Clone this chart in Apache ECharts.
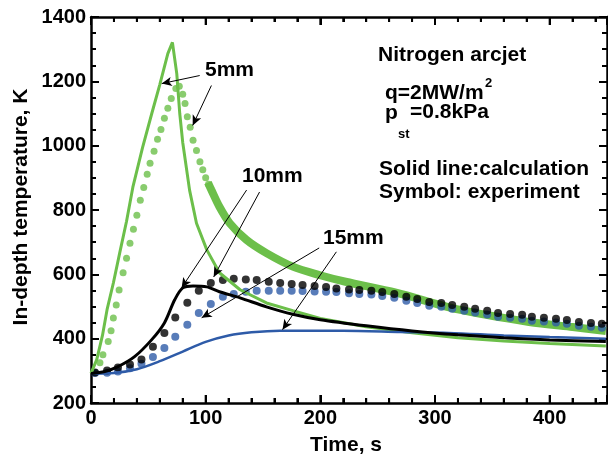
<!DOCTYPE html>
<html>
<head>
<meta charset="utf-8">
<script src="https://cdn.jsdelivr.net/npm/echarts@6/dist/echarts.min.js"></script>
<style>
  html, body { margin: 0; padding: 0; background: #fff; }
  #chart { width: 608px; height: 457px; }
</style>
</head>
<body>
<div id="chart"></div>
<script>
// time (s), temperature (K)
const calc5mm = [[0,292],[5,335],[10,410],[14,490],[19.5,573],[25,666],[31,765],[36.5,871],[45,995],[53,1100],[60,1190],[67,1286],[71,1321],[74.8,1224],[77.4,1100],[80,1010],[86,861],[92,759],[101,676],[112,605],[130,552],[153,511],[176,487],[200,463],[240,437],[280,418],[320,403],[360,393],[400,385],[449,377]]
const calc10mm = [[0,292],[12,298],[23.5,313],[38,344],[53,397],[64,449],[73,521],[80,558],[89,564],[101,561],[112,546],[130,527],[153,499],[176,476],[200,459],[240,440],[280,424],[320,412],[360,403],[400,396],[449,391]]
const calc15mm = [[0,291],[20,293],[40,305],[60,330],[80,360],[100,390],[120,410],[140,420],[165,425],[220,425],[270,421],[312,418],[360,410],[400,405],[449,400]]

// 5mm experiment: separate dots up to ~100 s, then the points merge into a dense band
const exp5mmDots = [[3.5,295],[7.8,325],[10.4,350],[15,391],[17.5,425],[19.5,464],[22,505],[24.5,551],[28,605],[31,650],[34,697],[37,740],[40,784],[43,830],[46,870],[49,911],[51.5,945],[55,983],[58,1020],[61,1050],[64,1085],[67,1116],[70,1147],[74,1178],[77,1185],[80,1160],[82,1131],[84,1090],[86.5,1057],[89,1017],[92,985],[95,950],[97.5,925],[100,900],[102.5,880]]
const exp5mmBand = [[102,885],[105,862],[112,810],[121,759],[135.6,707],[153,666],[176,624],[199,598],[222,577],[266,543],[320,491],[382,452],[420,436],[449,424]]
const exp10mm = [[3.5,295],[14,301],[23.5,310],[34,320],[44,335],[54,375],[64,418],[73.5,466],[84,512],[94,549],[104.5,573],[115,582],[124.5,586],[135,584],[144.5,582],[155,577],[165,573],[175,570],[184.5,567],[195,564],[205,561],[214,556],[225,553],[234,551],[244.5,549],[254,545],[264.5,539],[275,530],[284.5,523],[295,514],[305.5,511],[315,505],[325.5,499],[335,493],[345.5,487],[355,480],[365.5,477],[376,474],[384.5,468],[395,465],[405.5,462],[415,458],[425.5,452],[436,449],[445.5,446]]
const exp15mm = [[3.5,293],[14,294],[23.5,298],[34,308],[44,322],[54,343],[64,371],[73.5,406],[84,443],[94,480],[104.5,508],[115,530],[124.5,539],[135,546],[144.5,549],[155,549],[165,549],[175,549],[184.5,548],[195,547],[205,546],[214,545],[225,541],[234,539],[244.5,537],[254,533],[264.5,527],[275,518],[284.5,511],[295,502],[305.5,499],[315,493],[325.5,487],[335,481],[345.5,475],[355,468],[365.5,465],[376,462],[384.5,456],[395,453],[405.5,450],[415,446],[425.5,440],[436,437],[445.5,434]]

// annotation arrows: [from, to] in data units
const arrows = [
  [[94.8,1218],[61.7,1193]],
  [[105,1187],[88.7,1063]],
  [[135.7,862],[79,558]],
  [[147,856],[107,592]],
  [[199,682],[96.5,465]],
  [[214,670],[167,428]]
]

const X_MIN = 0, X_MAX = 450, X_STEP = 100, X_MINOR = 5
const Y_MIN = 200, Y_MAX = 1400, Y_STEP = 200, Y_MINOR = 4

const GREEN = '#6cbf4a'
const BLUE = '#2e5ba8'
const BLACK = '#000'
const FONT = 'Liberation Sans'

const chart = echarts.init(document.getElementById('chart'))

const plotRect = { left: 91, right: 1, top: 17, bottom: 54 }

// one x and one y axis per grid; the second grid sits on top of the first to give the mirrored ticks
function makeAxis(gridIndex, position, min, max, interval, minorSplit, withLabels) {
  const ax = {
    type: 'value', gridIndex: gridIndex, position: position, min: min, max: max, interval: interval,
    axisLine: { show: true, lineStyle: { color: '#000', width: 2.5 } },
    axisTick: { show: true, inside: true, length: 8, lineStyle: { color: '#000', width: 2 } },
    minorTick: { show: true, splitNumber: minorSplit, length: 5, lineStyle: { color: '#000', width: 2 } },
    splitLine: { show: false },
    axisLabel: withLabels
      ? { show: true, color: '#000', fontFamily: FONT, fontWeight: 'bold', fontSize: 20,
          margin: 5, formatter: v => String(v) }
      : { show: false }
  }
  if (position === 'right') ax.axisLine.onZero = false
  if (position === 'bottom') ax.axisLabel.showMaxLabel = false
  return ax
}

function txt(text, x, y, size, extra) {
  return { type: 'text', x: x, y: y, silent: true,
    style: { text: text, fill: '#000', font: 'bold ' + size + 'px "' + FONT + '"',
      textAlign: 'left', textVerticalAlign: 'middle', ...extra } }
}

const texts = [
  txt('5mm', 205, 70, 21),
  txt('10mm', 242, 176, 21),
  txt('15mm', 323, 238, 21),
  txt('Nitrogen arcjet', 378, 55, 21),
  txt('q=2MW/m', 385, 93, 21),
  txt('2', 485, 83, 13),
  txt('p', 385, 113, 21),
  txt('st', 398, 134, 13),
  txt('=0.8kPa', 410, 112, 21),
  txt('Solid line:calculation', 379, 169, 21),
  txt('Symbol: experiment', 379, 192, 21),
  txt('Time, s', 346, 445, 21, { textAlign: 'center' }),
  { type: 'text', x: 21, y: 207, rotation: Math.PI / 2, silent: true,
    style: { text: 'In-depth temperature, K', fill: '#000', font: 'bold 21px "' + FONT + '"',
      textAlign: 'center', textVerticalAlign: 'middle' } }
]

const option = {
  animation: false,
  grid: [ { ...plotRect }, { ...plotRect } ],
  xAxis: [
    makeAxis(0, 'bottom', X_MIN, X_MAX, X_STEP, X_MINOR, true),
    makeAxis(1, 'top', X_MIN, X_MAX, X_STEP, X_MINOR, false)
  ],
  yAxis: [
    makeAxis(0, 'left', Y_MIN, Y_MAX, Y_STEP, Y_MINOR, true),
    makeAxis(1, 'right', Y_MIN, Y_MAX, Y_STEP, Y_MINOR, false)
  ],
  series: [
    { name: '5mm exp band', type: 'line', data: exp5mmBand, showSymbol: false, smooth: 0.3,
      lineStyle: { color: GREEN, width: 8 }, z: 2 },
    { name: '5mm exp', type: 'scatter', data: exp5mmDots, symbol: 'circle', symbolSize: 7,
      itemStyle: { color: GREEN }, z: 2 },
    { name: '15mm exp', type: 'scatter', data: exp15mm, symbol: 'circle', symbolSize: 8,
      itemStyle: { color: BLUE }, z: 3 },
    { name: '10mm exp', type: 'scatter', data: exp10mm, symbol: 'circle', symbolSize: 8,
      itemStyle: { color: BLACK }, z: 3 },
    { name: '5mm calc', type: 'line', data: calc5mm, showSymbol: false,
      lineStyle: { color: GREEN, width: 3 }, z: 4 },
    { name: '15mm calc', type: 'line', data: calc15mm, showSymbol: false, smooth: 0.3,
      lineStyle: { color: BLUE, width: 2.5 }, z: 4 },
    { name: '10mm calc', type: 'line', data: calc10mm, showSymbol: false, smooth: 0.3,
      lineStyle: { color: BLACK, width: 3 }, z: 5 },
    { name: 'arrows', type: 'line', data: [], z: 6,
      markLine: {
        silent: true, animation: false,
        symbol: ['none', 'arrow'], symbolSize: [7, 10],
        label: { show: false },
        lineStyle: { color: '#000', width: 1, type: 'solid' },
        data: arrows.map(a => [{ coord: a[0] }, { coord: a[1] }])
      } },
    { name: 'frame', type: 'line', xAxisIndex: 1, yAxisIndex: 1, data: [], silent: true }
  ]
}

chart.setOption(option)

// x-axis ticks (bottom and top), placed from the axis scale on their own top layer
function toPixel(v, y) {
  const p = chart.convertToPixel({ xAxisIndex: 0, yAxisIndex: 0 }, [v, y])
  if (p && isFinite(p[0]) && isFinite(p[1])) return p
  const w = 608 - plotRect.left - plotRect.right
  const h = 457 - plotRect.top - plotRect.bottom
  return [plotRect.left + (v - X_MIN) / (X_MAX - X_MIN) * w,
          plotRect.top + (Y_MAX - y) / (Y_MAX - Y_MIN) * h]
}

const xTicks = []
const minorStep = X_STEP / X_MINOR
for (let v = X_MIN; v <= X_MAX + 1e-9; v += minorStep) {
  const isMajor = Math.abs(v / X_STEP - Math.round(v / X_STEP)) < 1e-6
  const len = isMajor ? 8 : 5
  const b = toPixel(v, Y_MIN)
  const t = toPixel(v, Y_MAX)
  xTicks.push({ type: 'line', silent: true, zlevel: 1, z: 100,
    shape: { x1: b[0], y1: b[1], x2: b[0], y2: b[1] - len },
    style: { stroke: '#000', lineWidth: 2 } })
  xTicks.push({ type: 'line', silent: true, zlevel: 1, z: 100,
    shape: { x1: t[0], y1: t[1], x2: t[0], y2: t[1] + len },
    style: { stroke: '#000', lineWidth: 2 } })
}

chart.setOption({ graphic: texts.concat(xTicks) })
</script>
</body>
</html>
